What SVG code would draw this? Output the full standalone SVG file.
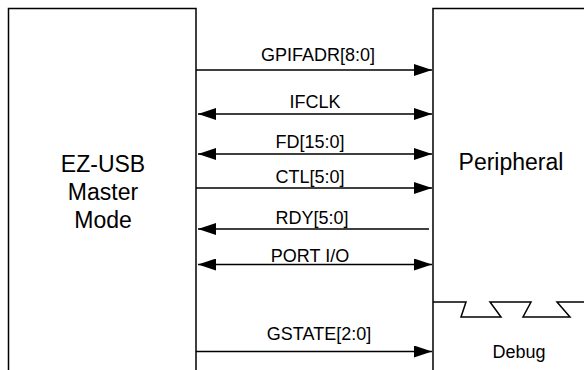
<svg xmlns="http://www.w3.org/2000/svg" width="584" height="370" viewBox="0 0 584 370">
<style>
.box{fill:none;stroke:#000;stroke-width:1.5}
.ln{fill:none;stroke:#000;stroke-width:1.5}
.lbl{font-family:"Liberation Sans",Arial,sans-serif;font-size:18px;fill:#000;text-anchor:middle}
.big{font-family:"Liberation Sans",Arial,sans-serif;font-size:23px;fill:#000;text-anchor:middle}
</style>
<defs>
<marker id="ah" markerUnits="userSpaceOnUse" markerWidth="18" markerHeight="12" refX="18" refY="6" orient="auto-start-reverse" viewBox="0 0 18 12">
<path d="M0,0 L18,6 L0,12 z" fill="#000"/>
</marker>
</defs>
<rect width="584" height="370" fill="#fff"/>
<g id="ezusb">
<path class="box" d="M8.5,370 V8.5 H196 V370"/>
<text class="big" x="103" y="172">EZ-USB</text>
<text class="big" x="103" y="200">Master</text>
<text class="big" x="103" y="228">Mode</text>
</g>
<g id="peripheral">
<path class="box" d="M433,370 V8.5 H584"/>
<text class="big" x="511" y="170">Peripheral</text>
<path class="ln" stroke-width="1.3" d="M433,302 H466 L461,317 H501 L490,302 H531 L523,317 H570 L557,302 H584"/>
<text class="lbl" x="519" y="358">Debug</text>
</g>
<g id="connectors">
<line class="ln" x1="196" y1="70" x2="432" y2="70" marker-end="url(#ah)"/>
<text class="lbl" x="318" y="60.5">GPIFADR[8:0]</text>
<line class="ln" x1="198" y1="114" x2="432" y2="114" marker-start="url(#ah)" marker-end="url(#ah)"/>
<text class="lbl" x="315" y="108">IFCLK</text>
<line class="ln" x1="198" y1="154" x2="432" y2="154" marker-start="url(#ah)" marker-end="url(#ah)"/>
<text class="lbl" x="310" y="148">FD[15:0]</text>
<line class="ln" x1="196" y1="188" x2="432" y2="188" marker-end="url(#ah)"/>
<text class="lbl" x="310" y="183">CTL[5:0]</text>
<line class="ln" x1="198" y1="229" x2="429" y2="229" marker-start="url(#ah)"/>
<text class="lbl" x="312" y="224">RDY[5:0]</text>
<line class="ln" x1="198" y1="264.5" x2="432" y2="264.5" marker-start="url(#ah)" marker-end="url(#ah)"/>
<text class="lbl" x="310" y="261.5">PORT I/O</text>
<line class="ln" x1="196" y1="351.5" x2="432" y2="351.5" marker-end="url(#ah)"/>
<text class="lbl" x="319" y="340">GSTATE[2:0]</text>
</g>
</svg>
